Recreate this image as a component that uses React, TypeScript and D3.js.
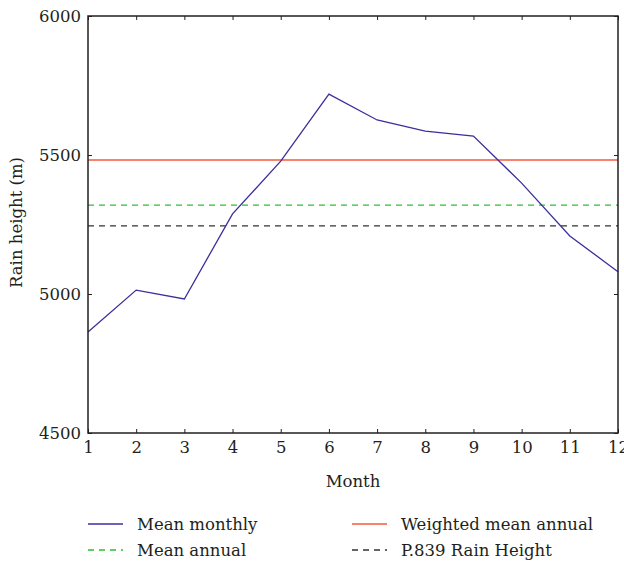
import React, { useRef, useEffect } from 'react';
import * as d3 from 'd3';

const months = [1, 2, 3, 4, 5, 6, 7, 8, 9, 10, 11, 12];
const meanMonthly = [4863, 5014, 4982, 5288, 5478, 5719, 5626, 5586, 5568, 5399, 5209, 5080];
const weightedMeanAnnual = 5482;
const meanAnnual = 5320;
const p839RainHeight = 5245;
const yTicks = [4500, 5000, 5500, 6000];

const FONT = '"DejaVu Serif", "Liberation Serif", serif';
const FS = '16.5px';

const App = () => {
  const svgRef = useRef<SVGSVGElement>(null);

  useEffect(() => {
    const margin = { top: 16, right: 6, bottom: 130, left: 88 };
    const totalW = 624;
    const totalH = 563;
    const width = totalW - margin.left - margin.right;
    const height = totalH - margin.top - margin.bottom;

    const root = d3.select(svgRef.current);
    root.selectAll('*').remove();
    root.attr('width', totalW).attr('height', totalH);

    const svg = root.append('g')
      .attr('transform', `translate(${margin.left},${margin.top})`);

    const x = d3.scaleLinear().domain([1, 12]).range([0, width]);
    const y = d3.scaleLinear().domain([4500, 6000]).range([height, 0]);

    // reference lines
    const hlines = [
      { v: weightedMeanAnnual, color: '#f4593e', dash: null },
      { v: meanAnnual, color: '#2fbf2f', dash: '6,5' },
      { v: p839RainHeight, color: '#333333', dash: '6,5' },
    ];
    hlines.forEach(h => {
      svg.append('line')
        .attr('x1', 0).attr('x2', width)
        .attr('y1', y(h.v)).attr('y2', y(h.v))
        .attr('stroke', h.color)
        .attr('stroke-width', 1.3)
        .attr('stroke-dasharray', h.dash);
    });

    // monthly line
    const line = d3.line<number>()
      .x((_, i) => x(months[i]))
      .y(d => y(d));
    svg.append('path')
      .datum(meanMonthly)
      .attr('d', line)
      .attr('fill', 'none')
      .attr('stroke', '#3b2f9c')
      .attr('stroke-width', 1.3);

    // frame
    svg.append('rect')
      .attr('x', 0).attr('y', 0)
      .attr('width', width).attr('height', height)
      .attr('fill', 'none')
      .attr('stroke', '#231f20')
      .attr('stroke-width', 1.5);

    // x axis
    const xAxis = svg.append('g')
      .attr('transform', `translate(0,${height})`)
      .call(d3.axisBottom(x).tickValues(months).tickFormat(d3.format('d')).tickSizeInner(-4).tickSizeOuter(0).tickPadding(8));
    const xTop = svg.append('g')
      .call(d3.axisTop(x).tickValues(months).tickFormat(() => '').tickSizeInner(-4).tickSizeOuter(0));

    const yAxis = svg.append('g')
      .call(d3.axisLeft(y).tickValues(yTicks).tickFormat(d3.format('d')).tickSizeInner(-4).tickSizeOuter(0).tickPadding(7));
    const yRight = svg.append('g')
      .attr('transform', `translate(${width},0)`)
      .call(d3.axisRight(y).tickValues(yTicks).tickFormat(() => '').tickSizeInner(-4).tickSizeOuter(0));

    [xAxis, xTop, yAxis, yRight].forEach(a => {
      a.select('.domain').remove();
      a.selectAll('line').attr('stroke', '#231f20').attr('stroke-width', 1);
      a.selectAll('text')
        .attr('fill', '#231f20')
        .style('font-family', FONT)
        .style('font-size', FS);
    });

    // axis labels
    svg.append('text')
      .attr('x', width / 2)
      .attr('y', height + 54)
      .attr('text-anchor', 'middle')
      .attr('fill', '#231f20')
      .style('font-family', FONT)
      .style('font-size', FS)
      .text('Month');

    svg.append('text')
      .attr('transform', 'rotate(-90)')
      .attr('x', -height / 2 + 2)
      .attr('y', -66)
      .attr('text-anchor', 'middle')
      .attr('fill', '#231f20')
      .style('font-family', FONT)
      .style('font-size', FS)
      .text('Rain height (m)');

    // legend
    const legend = [
      { label: 'Mean monthly', color: '#3b2f9c', dash: null, col: 0, row: 0 },
      { label: 'Weighted mean annual', color: '#f4593e', dash: null, col: 1, row: 0 },
      { label: 'Mean annual', color: '#2fbf2f', dash: '6,5', col: 0, row: 1 },
      { label: 'P.839 Rain Height', color: '#333333', dash: '6,5', col: 1, row: 1 },
    ];
    const lg = root.append('g');
    legend.forEach(l => {
      const lx = l.col === 0 ? 88 : 352;
      const ly = 524 + l.row * 26;
      lg.append('line')
        .attr('x1', lx).attr('x2', lx + 35)
        .attr('y1', ly).attr('y2', ly)
        .attr('stroke', l.color)
        .attr('stroke-width', 1.3)
        .attr('stroke-dasharray', l.dash);
      lg.append('text')
        .attr('x', lx + 49)
        .attr('y', ly + 6)
        .attr('fill', '#231f20')
        .style('font-family', FONT)
        .style('font-size', FS)
        .text(l.label);
    });
  }, []);

  return (
    <div style={{ position: 'absolute', left: 0, top: 0 }}>
      <svg ref={svgRef} style={{ display: 'block' }}></svg>
    </div>
  );
};

export default App;
